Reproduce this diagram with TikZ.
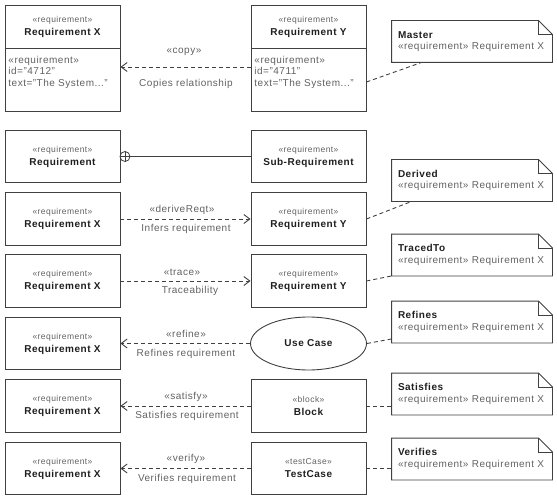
\documentclass[tikz,border=0pt]{standalone}
\usepackage{fontspec}
\setmainfont{Liberation Sans}[LetterSpace=5]
\usetikzlibrary{shapes.geometric,arrows.meta}
\definecolor{ln}{gray}{0.25}
\definecolor{tx}{gray}{0.38}
\definecolor{nm}{gray}{0.12}
\newcommand\stt{\fontsize{8.5}{11}\selectfont\color{tx}}
\newcommand\nmm{\fontsize{10}{12}\selectfont\bfseries\color{nm}}
\newcommand\rgg{\fontsize{10}{11.5}\selectfont\color{tx}}
\newcommand\reqbox[2]{{\stt «#1»}\\[1pt]{\nmm #2}}
\newcommand\noteshape[1]{%
  \draw[ndraw] (#1.south west) -- (#1.north west) -- ([xshift=-14pt]#1.north east) -- ([yshift=-14pt]#1.north east) -- (#1.south east) -- cycle;
  \draw[ndraw] ([xshift=-14pt]#1.north east) -- ([xshift=-14pt,yshift=-14pt]#1.north east) -- ([yshift=-14pt]#1.north east);}
\begin{document}
\begin{tikzpicture}[x=1pt,y=-1pt, line width=0.9pt,
  box/.style={draw=ln, rectangle, minimum width=115pt, minimum height=52.5pt, inner sep=0pt, align=center},
  hdr/.style={box, minimum height=43pt},
  bdy/.style={box, minimum height=63pt},
  btxt/.style={anchor=north west, align=left, inner sep=0pt, font=\rgg},
  note/.style={rectangle, minimum width=160pt, minimum height=41pt, text width=148pt, inner xsep=6pt, inner ysep=0pt, align=left, font=\rgg},
  lbl/.style={inner sep=0pt, font=\rgg},
  dep/.style={draw=ln, dash pattern=on 4pt off 3pt},
  opn/.style={dep, -{Straight Barb[length=6pt,width=9pt]}},
  ndraw/.style={draw=ln, line width=0.9pt}
]
\useasboundingbox (0,0) rectangle (557,500);

% Row 1: copy
\node[hdr] (rxh) at (62.5,26.5) {\reqbox{requirement}{Requirement X}};
\node[bdy] (rxb) at (62.5,79.5) {};
\node[btxt] (rxt) at (8,55.5) {«requirement»\\id="4712"\\text="The System..."};
\node[hdr] (ryh) at (308.5,26.5) {\reqbox{requirement}{Requirement Y}};
\node[bdy] (ryb) at (308.5,79.5) {};
\node[btxt] (ryt) at (254,55.5) {«requirement»\\id="4711"\\text="The System..."};
\coordinate (c1) at (0,67);
\draw[opn] (ryb.west |- c1) -- (rxb.east |- c1);
\node[lbl] (l1a) at (184,52) {«copy»};
\node[lbl] (l1b) at (186,84) {Copies relationship};
\node[note] (master) at (472,41.5) {{\nmm Master}\\«requirement» Requirement X};
\noteshape{master}
\coordinate (c1b) at (0,82);
\draw[dep] (ryb.east |- c1b) -- ([xshift=30pt]master.south west);

% Row 2: containment
\node[box] (rq) at (62.5,156.5) {\reqbox{requirement}{Requirement}};
\node[box] (sub) at (308.5,156.5) {\reqbox{requirement}{Sub-Requirement}};
\node[circle, draw=ln, minimum size=10pt, inner sep=0pt, line width=0.8pt] (cp) at (125,156.5) {};
\draw[draw=ln, line width=0.8pt] (cp.north) -- (cp.south) (cp.west) -- (cp.east);
\draw[draw=ln] (cp.east) -- (sub.west);

% Row 3: deriveReqt
\node[box] (r3x) at (62.5,219) {\reqbox{requirement}{Requirement X}};
\node[box] (r3y) at (308.5,219) {\reqbox{requirement}{Requirement Y}};
\draw[opn] (r3x) -- (r3y);
\node[lbl] (l3a) at (182,210) {«deriveReqt»};
\node[lbl] (l3b) at (186,229) {Infers requirement};
\node[note] (derived) at (472,180.5) {{\nmm Derived}\\«requirement» Requirement X};
\noteshape{derived}
\draw[dep] (r3y.east) -- ([xshift=20pt]derived.south west);

% Row 4: trace
\node[box] (r4x) at (62.5,281) {\reqbox{requirement}{Requirement X}};
\node[box] (r4y) at (308.5,281) {\reqbox{requirement}{Requirement Y}};
\draw[opn] (r4x) -- (r4y);
\node[lbl] (l4a) at (182,272) {«trace»};
\node[lbl] (l4b) at (190,291) {Traceability};
\node[note] (traced) at (472,255) {{\nmm TracedTo}\\«requirement» Requirement X};
\noteshape{traced}
\draw[dep] (r4y.east) -- (traced.south west);

% Row 5: refine
\node[box] (r5x) at (62.5,343.5) {\reqbox{requirement}{Requirement X}};
\node[ellipse, draw=ln, minimum width=116pt, minimum height=53pt, inner sep=0pt] (uc) at (308.5,343.5) {\nmm Use Case};
\draw[opn] (uc) -- (r5x);
\node[lbl] (l5a) at (186,334) {«refine»};
\node[lbl] (l5b) at (186,354) {Refines requirement};
\node[note] (refines) at (472,322) {{\nmm Refines}\\«requirement» Requirement X};
\noteshape{refines}
\draw[dep] (uc.east) -- ([yshift=4pt]refines.south west);

% Row 6: satisfy
\node[box] (r6x) at (62.5,406) {\reqbox{requirement}{Requirement X}};
\node[box] (blk) at (308.5,406) {\reqbox{block}{Block}};
\draw[opn] (blk) -- (r6x);
\node[lbl] (l6a) at (186,397) {«satisfy»};
\node[lbl] (l6b) at (187,416) {Satisfies requirement};
\node[note] (satisfies) at (472,394) {{\nmm Satisfies}\\«requirement» Requirement X};
\noteshape{satisfies}
\draw[dep] (blk.east) -- (satisfies.west |- blk.east);

% Row 7: verify
\node[box] (r7x) at (62.5,468.5) {\reqbox{requirement}{Requirement X}};
\node[box] (tc) at (308.5,468.5) {\reqbox{testCase}{TestCase}};
\draw[opn] (tc) -- (r7x);
\node[lbl] (l7a) at (186,459) {«verify»};
\node[lbl] (l7b) at (187,479) {Verifies requirement};
\node[note] (verifies) at (472,459) {{\nmm Verifies}\\«requirement» Requirement X};
\noteshape{verifies}
\draw[dep] (tc.east) -- (verifies.west |- tc.east);
\end{tikzpicture}
\end{document}
